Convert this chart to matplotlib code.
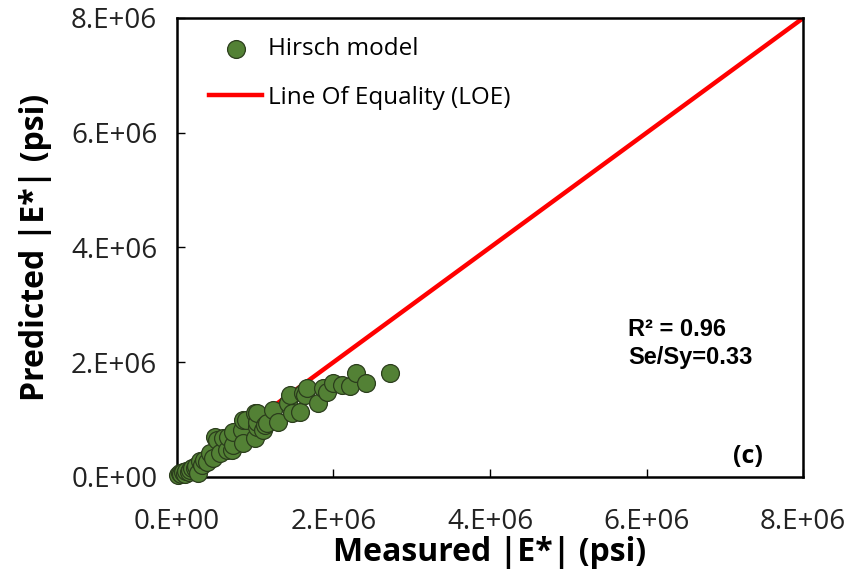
import matplotlib
matplotlib.use("Agg")
import matplotlib.pyplot as plt

# measured vs predicted |E*| (psi)
measured = [0.02e6, 0.04e6, 0.06e6, 0.08e6, 0.10e6, 0.12e6, 0.15e6, 0.17e6, 0.20e6, 0.23e6,
            0.25e6, 0.27e6, 0.30e6, 0.32e6, 0.35e6, 0.38e6, 0.42e6, 0.46e6, 0.49e6, 0.51e6,
            0.55e6, 0.59e6, 0.64e6, 0.65e6, 0.70e6, 0.72e6, 0.72e6, 0.83e6, 0.84e6, 0.84e6,
            0.89e6, 1.00e6, 1.00e6, 1.02e6, 1.02e6, 1.02e6, 1.10e6, 1.12e6, 1.15e6, 1.23e6,
            1.29e6, 1.42e6, 1.44e6, 1.47e6, 1.57e6, 1.61e6, 1.64e6, 1.66e6, 1.80e6, 1.87e6,
            1.92e6, 1.99e6, 2.11e6, 2.21e6, 2.29e6, 2.42e6, 2.72e6]
predicted = [0.03e6, 0.07e6, 0.05e6, 0.09e6, 0.06e6, 0.10e6, 0.08e6, 0.12e6, 0.15e6, 0.16e6,
             0.20e6, 0.07e6, 0.28e6, 0.21e6, 0.30e6, 0.26e6, 0.42e6, 0.33e6, 0.70e6, 0.64e6,
             0.42e6, 0.68e6, 0.47e6, 0.70e6, 0.47e6, 0.56e6, 0.78e6, 0.82e6, 0.59e6, 0.99e6,
             0.99e6, 0.68e6, 1.11e6, 0.87e6, 0.96e6, 1.11e6, 0.82e6, 0.91e6, 0.94e6, 1.17e6,
             0.96e6, 1.29e6, 1.43e6, 1.11e6, 1.13e6, 1.46e6, 1.43e6, 1.55e6, 1.29e6, 1.55e6,
             1.48e6, 1.64e6, 1.60e6, 1.58e6, 1.81e6, 1.64e6, 1.81e6]
loe = [0, 8e6]
ticks = [0, 2e6, 4e6, 6e6, 8e6]
tick_labels = ["0.E+00", "2.E+06", "4.E+06", "6.E+06", "8.E+06"]

fig = plt.figure(figsize=(8.5, 5.8), dpi=100)
ax = fig.add_axes([0.208, 0.1776, 0.737, 0.7914])

ax.plot(loe, loe, color="#ff0000", lw=3.2, zorder=2, label="Line Of Equality (LOE)")
ax.scatter(measured, predicted, s=165, color="#538135", edgecolors="#2b3d1c", linewidths=0.9,
           zorder=4, clip_on=False, label="Hirsch model")

ax.set_xlim(0, 8e6); ax.set_ylim(0, 8e6)
ax.set_xticks(ticks); ax.set_yticks(ticks)
ax.set_xticklabels(tick_labels); ax.set_yticklabels(tick_labels)
ax.tick_params(direction="in", length=6, width=1, labelsize=20)
ax.tick_params(axis="x", pad=22)
ax.tick_params(axis="y", pad=14)
for t in ax.get_xticklabels() + ax.get_yticklabels():
    t.set_family("Open Sans")
    t.set_color("#222222")
for s in ax.spines.values():
    s.set_linewidth(1.8)

ax.set_xlabel("Measured |E*| (psi)", fontsize=23, fontweight="bold", family="Open Sans", labelpad=0)
ax.set_ylabel("Predicted |E*| (psi)", fontsize=23, fontweight="bold", family="Open Sans", labelpad=14)

h, l = ax.get_legend_handles_labels()
ax.legend(h[::-1], l[::-1], loc="upper left", frameon=False,
          prop={"family": "Open Sans", "size": 17.5}, handlelength=2.2, handletextpad=0.25,
          borderaxespad=0.4, labelspacing=1.0, bbox_to_anchor=(0.02, 1.0))

ax.text(0.721, 0.346, "R² = 0.96\nSe/Sy=0.33", transform=ax.transAxes, fontsize=17,
        fontweight="bold", family="Liberation Sans", va="top", linespacing=1.25)
ax.text(0.912, 0.045, "(c)", transform=ax.transAxes, fontsize=18, fontweight="bold",
        family="Open Sans", ha="center", va="center")

fig.savefig("out.png", dpi=100)
